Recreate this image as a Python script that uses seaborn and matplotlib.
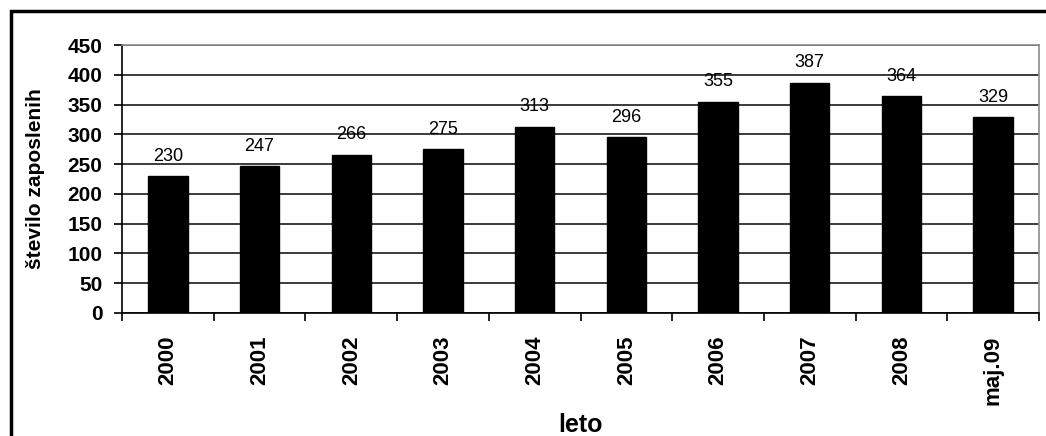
import matplotlib
matplotlib.use("Agg")
import matplotlib.pyplot as plt
import seaborn as sns
import pandas as pd
from matplotlib.patches import Rectangle
from matplotlib.ticker import FixedLocator

categories = ["2000", "2001", "2002", "2003", "2004", "2005", "2006", "2007", "2008", "maj.09"]
values = [230, 247, 266, 275, 313, 296, 355, 387, 364, 329]
y_ticks = [0, 50, 100, 150, 200, 250, 300, 350, 400, 450]

sns.set_style("white")
plt.rcParams["font.family"] = ["Liberation Sans", "DejaVu Sans"]
plt.rcParams["text.color"] = "black"
plt.rcParams["axes.labelcolor"] = "black"
plt.rcParams["xtick.color"] = "black"
plt.rcParams["ytick.color"] = "black"

df = pd.DataFrame({"leto": categories, "zaposleni": values})

fig = plt.figure(figsize=(10.46, 4.36), dpi=100)
ax = fig.add_axes([122/1046, 1-313/436, (1039-122)/1046, (313-45)/436])

sns.barplot(data=df, x="leto", y="zaposleni", color="black", width=0.43,
            saturation=1, ax=ax, edgecolor="black")

ax.set_ylim(0, 450)
ax.set_xlim(-0.5, len(categories)-0.5)
ax.yaxis.set_major_locator(FixedLocator(y_ticks))
ax.grid(axis="y", color="#1a1a1a", linewidth=1.2)
ax.set_axisbelow(True)

for s in ["left", "bottom"]:
    ax.spines[s].set_color("black")
    ax.spines[s].set_linewidth(1.2)
for s in ["top", "right"]:
    ax.spines[s].set_visible(True)
    ax.spines[s].set_color("#8c8c8c")
    ax.spines[s].set_linewidth(1.2)

ax.tick_params(axis="y", which="major", direction="out", length=6, width=1.2,
               color="black", left=True, labelsize=15, labelcolor="black", pad=8)
for t in ax.get_yticklabels():
    t.set_fontweight("bold")

ax.set_xticks(range(len(categories)))
ax.set_xticklabels(categories, rotation=90, fontsize=16, fontweight="bold", color="black")
ax.tick_params(axis="x", which="major", length=0, pad=16)
ax.xaxis.set_minor_locator(FixedLocator([i + 0.5 for i in range(-1, len(categories))]))
ax.tick_params(axis="x", which="minor", direction="out", length=6, width=1.2,
               color="black", bottom=True)

ax.bar_label(ax.containers[0], labels=[str(v) for v in values], padding=8,
             fontsize=13, color="black")

ax.set_xlabel("leto", fontsize=18, fontweight="bold", labelpad=6, color="black")
ax.set_ylabel("število zaposlenih", fontsize=15, fontweight="bold", labelpad=16, color="black")

fig.add_artist(Rectangle((11/1046, -0.2), 1.2, 1 - 11/436 + 0.2,
                         transform=fig.transFigure, fill=False,
                         edgecolor="black", linewidth=2.5))

fig.savefig("out.png", dpi=100)
